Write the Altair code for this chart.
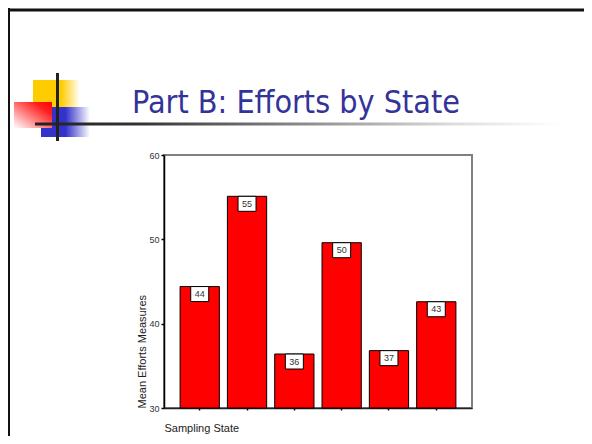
import altair as alt
import pandas as pd

# ---- data ----
STATES = ["1", "2", "3", "4", "5", "6"]
MEANS = [44.4, 55.1, 36.4, 49.6, 36.8, 42.6]
Y_TICKS = [30, 40, 50, 60]
Y_MIN, Y_MAX = 30, 60
SLIDE_TITLE = "Part B: Efforts by State"
X_TITLE = "Sampling State"
Y_TITLE = "Mean Efforts Measures"

df = pd.DataFrame({"state": STATES, "mean": MEANS})
dummy = pd.DataFrame({"d": [0]})

W, H = 308, 253


def grad(stops, x1=0, y1=0, x2=1, y2=0):
    return alt.Gradient(
        gradient="linear",
        stops=[alt.GradientStop(color=c, offset=o) for o, c in stops],
        x1=x1, y1=y1, x2=x2, y2=y2,
    )


def deco(x, x2, y, y2, fill):
    return alt.Chart(dummy).mark_rect(fill=fill, strokeWidth=0).encode(
        x=alt.value(x), x2=alt.value(x2), y=alt.value(y), y2=alt.value(y2)
    )


# slide decorations (plot-relative pixel positions)
border_left = deco(-157, -154, -147, 281, "#111111")
border_top = deco(-157, 420, -146.5, -143.5, "#111111")
yellow = deco(-131, -84, -75, -48,
              grad([(0, "#FFCC00"), (0.6, "#FFCC00"), (1, "#FFFFFF")]))
blue = deco(-123, -74, -48, -18,
            grad([(0, "#3333CC"), (0.5, "#3333CC"), (1, "#FFFFFF")]))
red = deco(-150, -112, -53, -27,
           grad([(0, "#FF0000"), (0.25, "#FF2020"), (1, "#FFFFFF")],
                x1=1, y1=0, x2=0, y2=1))
vline = deco(-108, -105, -82, -14, "#222222")
hline = deco(-129, 396, -32.5, -29.5,
             grad([(0, "#222222"), (0.2, "#333333"), (0.5, "#888888"),
                   (0.8, "#DDDDDD"), (1, "#FFFFFF")]))
title = alt.Chart(dummy).mark_text(
    text=SLIDE_TITLE, align="left", baseline="alphabetic",
    font="DejaVu Sans Condensed", fontSize=32, color="#333399",
).encode(x=alt.value(-32), y=alt.value(-42.3))

x_enc = alt.X(
    "state:N", sort=None,
    scale=alt.Scale(paddingInner=0.17, paddingOuter=0.34),
    axis=alt.Axis(
        labels=False, ticks=True, tickSize=2, tickWidth=1.5, tickColor="#000000",
        domainColor="#222222", domainWidth=1.5,
        title=X_TITLE, titleX=0, titleY=23, titleAlign="left",
        titleBaseline="alphabetic", titleFont="Liberation Sans",
        titleFontSize=11, titleFontWeight="normal", titleColor="#222222",
    ),
)
y_scale = alt.Scale(domain=[Y_MIN, Y_MAX], nice=False, zero=False)

bars = alt.Chart(df).mark_bar(
    fill="#FF0000", stroke="#000000", strokeWidth=1
).encode(
    x=x_enc,
    y=alt.Y(
        "mean:Q", scale=y_scale,
        axis=alt.Axis(
            values=Y_TICKS, grid=False, tickSize=3, tickColor="#000000",
            tickWidth=1.5, labelFont="Liberation Sans", labelFontSize=9,
            labelColor="#333333", labelPadding=2, domainColor="#000000",
            domainWidth=1.5, title=Y_TITLE, titleAngle=-90, titleX=-17,
            titleY=H, titleAlign="left", titleBaseline="bottom",
            titleFont="Liberation Sans", titleFontSize=11,
            titleFontWeight="normal", titleColor="#222222",
        ),
    ),
    y2=alt.datum(Y_MIN),
)

boxes = alt.Chart(df).mark_point(
    shape="M-1.2,-1L1.2,-1L1.2,1L-1.2,1Z", filled=True, fill="#FFFFFF",
    stroke="#000000", strokeWidth=1, size=225, opacity=1, yOffset=7.5,
).encode(x=alt.X("state:N", sort=None), y=alt.Y("mean:Q", scale=y_scale))

labels = alt.Chart(df).mark_text(
    font="Liberation Sans", fontSize=9, color="#333333",
    baseline="middle", align="center", yOffset=7.5,
).encode(
    x=alt.X("state:N", sort=None),
    y=alt.Y("mean:Q", scale=y_scale),
    text=alt.Text("mean:Q", format=".0f"),
)

chart = alt.layer(
    border_left, border_top, yellow, blue, red, hline, vline, title,
    bars, boxes, labels,
).properties(
    width=W, height=H,
    autosize=alt.AutoSizeParams(type="none"),
    padding={"left": 156, "top": 147, "right": 112, "bottom": 28},
    background="#FFFFFF",
).configure_view(stroke="#808080", strokeWidth=2)

chart.save("out.html", embed_options={"renderer": "svg", "actions": False})
